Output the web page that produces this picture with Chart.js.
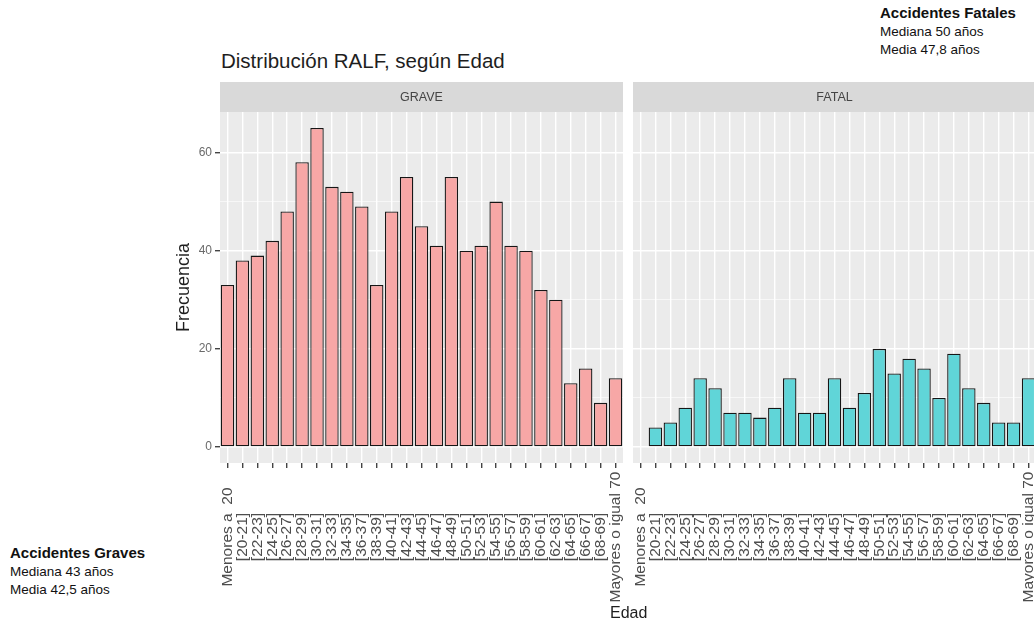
<!DOCTYPE html>
<html>
<head>
<meta charset="utf-8">
<script src="https://cdn.jsdelivr.net/npm/chart.js@4.4.0/dist/chart.umd.min.js"></script>
<style>
  html, body { margin: 0; padding: 0; background: #fff; width: 1034px; height: 627px; overflow: hidden; font-family: "Liberation Sans", Arial, sans-serif; }
  .abs { position: absolute; }
  #wrap-grave { left: 160px; top: 75px; width: 463px; height: 540px; }
  #wrap-fatal { left: 633px; top: 75px; width: 403px; height: 540px; }
  .note { font-family: "Liberation Sans", Arial, sans-serif; color: #111; font-size: 13.5px; line-height: 18px; }
  .note b { font-size: 15px; }
</style>
</head>
<body>
<div class="abs" style="left:221px; top:49px; font-size:20.5px; color:#1e1e1e;">Distribución RALF, según Edad</div>
<div class="abs" id="wrap-grave"><canvas id="chart-grave"></canvas></div>
<div class="abs" id="wrap-fatal"><canvas id="chart-fatal"></canvas></div>
<div class="abs" style="left:610px; top:604px; font-size:16px; color:#1e1e1e;">Edad</div>
<div class="abs note" style="left:10px; top:544px;"><b>Accidentes Graves</b><br>Mediana 43 años<br>Media 42,5 años</div>
<div class="abs note" style="left:880px; top:4px;"><b>Accidentes Fatales</b><br>Mediana 50 años<br>Media 47,8 años</div>

<script>
// === データ ===
const categories = ['Menores a  20', '[20-21]', '[22-23]', '[24-25]', '[26-27]', '[28-29]', '[30-31]', '[32-33]',
  '[34-35]', '[36-37]', '[38-39]', '[40-41]', '[42-43]', '[44-45]', '[46-47]', '[48-49]', '[50-51]', '[52-53]',
  '[54-55]', '[56-57]', '[58-59]', '[60-61]', '[62-63]', '[64-65]', '[66-67]', '[68-69]', 'Mayores o igual 70'];
const graveValues = [33, 38, 39, 42, 48, 58, 65, 53, 52, 49, 33, 48, 55, 45, 41, 55, 40, 41, 50, 41, 40, 32, 30, 13, 16, 9, 14];
const fatalValues = [null, 4, 5, 8, 14, 12, 7, 7, 6, 8, 14, 7, 7, 14, 8, 11, 20, 15, 18, 16, 10, 19, 12, 9, 5, 5, 14];
const panelNames = ['GRAVE', 'FATAL'];
const yTickValues = [0, 10, 20, 30, 40, 50, 60];

const FONT = '"Liberation Sans", Arial, sans-serif';

// === パネル背景とストリップ ===
const stripPlugin = {
  id: 'strip',
  beforeDraw(chart, args, opts) {
    const { ctx, chartArea: a } = chart;
    ctx.save();
    ctx.fillStyle = '#ebebeb';
    ctx.fillRect(a.left, a.top, a.right - a.left, a.bottom - a.top);
    ctx.fillStyle = '#d9d9d9';
    ctx.fillRect(a.left, a.top - 30, a.right - a.left, 30);
    ctx.fillStyle = '#454545';
    ctx.font = '12.5px ' + FONT;
    ctx.textAlign = 'center';
    ctx.textBaseline = 'middle';
    ctx.fillText(opts.text, (a.left + a.right) / 2, a.top - 14);
    ctx.restore();
  }
};

// ggplotのように縦書きラベルを中央揃えで描く
const centeredLabels = {
  id: 'centeredLabels',
  afterDraw(chart) {
    const { ctx, chartArea: a } = chart;
    const xs = chart.scales.x;
    ctx.save();
    ctx.fillStyle = '#4d4d4d';
    ctx.font = '15.5px ' + FONT;
    ctx.textAlign = 'center';
    ctx.textBaseline = 'middle';
    chart.data.labels.forEach((lbl, i) => {
      ctx.save();
      ctx.translate(xs.getPixelForTick(i), a.bottom + 74);
      ctx.rotate(-Math.PI / 2);
      ctx.fillText(lbl, 0, 0);
      ctx.restore();
    });
    ctx.restore();
  }
};

function makeChart(canvasId, values, panel, fill, showY) {
  return new Chart(document.getElementById(canvasId), {
    type: 'bar',
    data: {
      labels: categories,
      datasets: [{ data: values, backgroundColor: fill, borderColor: '#161616', borderWidth: 1.3,
        borderSkipped: false, barPercentage: 1, categoryPercentage: 0.9 }]
    },
    plugins: [stripPlugin, centeredLabels],
    options: {
      responsive: true, maintainAspectRatio: false, animation: false,
      layout: { padding: { top: 37, left: 0, right: 0, bottom: 0 } },
      plugins: { legend: { display: false }, tooltip: { enabled: false }, strip: { text: panel } },
      scales: {
        x: {
          offset: true,
          grid: { color: '#ffffff', lineWidth: 1.4, offset: false, tickColor: '#444', tickLength: 5 },
          border: { display: false },
          ticks: { display: false, autoSkip: false },
          afterFit: (axis) => { axis.height = 152; }
        },
        y: {
          min: -3.25, max: 68.25,
          afterBuildTicks: (axis) => { axis.ticks = yTickValues.map(v => ({ value: v })); },
          grid: {
            color: '#ffffff',
            lineWidth: (c) => (c.tick && c.tick.value % 20 === 0) ? 1.4 : 0.6,
            drawTicks: showY,
            tickColor: (c) => (c.tick && c.tick.value % 20 === 0) ? '#444' : 'rgba(0,0,0,0)',
            tickLength: 5
          },
          border: { display: false },
          ticks: { display: showY, callback: (v) => v % 20 === 0 ? v : '', color: '#6a6a6a',
            font: { size: 12, family: FONT }, padding: 3 },
          title: { display: showY, text: 'Frecuencia', color: '#1e1e1e',
            font: { size: 18, family: FONT }, padding: { top: 13, bottom: 0 } },
          afterFit: (axis) => { axis.width = showY ? 60 : 0; }
        }
      }
    }
  });
}

makeChart('chart-grave', graveValues, panelNames[0], 'rgba(247, 167, 166, 1)', true);
makeChart('chart-fatal', fatalValues, panelNames[1], 'rgba(96, 213, 216, 1)', false);
</script>
</body>
</html>
